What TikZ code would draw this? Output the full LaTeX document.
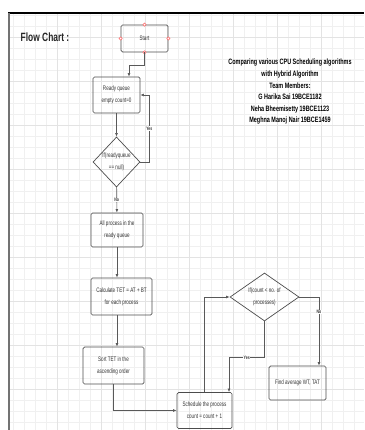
\documentclass[tikz,border=0pt]{standalone}
\usepackage{fontspec}
\setmainfont{Liberation Sans}[FakeStretch=0.7]
\usetikzlibrary{shapes.geometric,arrows.meta}

\tikzset{
  boxnode/.style={draw=black!70, rounded corners=1.5pt, line width=0.7pt, align=center, text=black!80, font=\fontsize{6.5}{12}\selectfont, inner sep=1pt},
  decnode/.style={boxnode, diamond, sharp corners, inner sep=0pt},
  flowline/.style={draw=black!65, line width=0.6pt, -{Latex[length=3.5pt,width=2.8pt]}},
  flowlabel/.style={fill=white, inner sep=0.5pt, font=\fontsize{5}{6}\selectfont\bfseries, text=black!80},
  gridline/.style={black!6, line width=0.4pt},
  gridmajor/.style={black!11, line width=0.5pt},
  pindot/.style={draw=red!60, fill=white, line width=0.5pt}
}

\begin{document}
\begin{tikzpicture}[x=1pt,y=-1pt]
\useasboundingbox (0,0) rectangle (364,430);

\foreach \y in {15,26,...,430}
{
    \draw[gridline](9,\y)--(364,\y);
}
\foreach \x in {13,24,...,364}
{
    \draw[gridline](\x,13)--(\x,430);
}
\foreach \y in {37,81,...,430}
{
    \draw[gridmajor](9,\y)--(364,\y);
}
\foreach \x in {57,101,...,364}
{
    \draw[gridmajor](\x,13)--(\x,430);
}
\draw[black, line width=1.2pt](8,13)--(364,13);
\draw[black!55, line width=1.8pt](9,13)--(9,430);

\node[font=\fontsize{12}{14}\selectfont\bfseries, text=black!85] (title) at (45,37) {Flow Chart :};
\node[align=center, font=\fontsize{7.8}{11.6}\selectfont\bfseries] (members) at (290,92)
  {Comparing various CPU Scheduling algorithms\\ with Hybrid Algorithm\\ Team Members:\\
   G Harika Sai 19BCE1182\\ Neha Bheemisetty 19BCE1123\\ Meghna Manoj Nair 19BCE1459};

\node[boxnode, minimum width=47, minimum height=27] (start) at (144.5,38.5) {Start};
\foreach \a in {north,south,east,west}
{
    \draw[pindot](start.\a)circle(1.6);
}
\node[boxnode, minimum width=47, minimum height=36] (ready) at (116.5,95) {Ready queue\\ empty count=0};
\node[decnode, minimum width=47, minimum height=50, aspect=0.94] (dec1) at (116.5,162) {If(readyqueue\\ == null)};
\node[boxnode, minimum width=52, minimum height=34] (allproc) at (117,230) {All process in the\\ ready queue};
\node[boxnode, minimum width=61, minimum height=37] (calc) at (121.5,296.5) {Calculate TET = AT + BT\\ for each process};
\node[boxnode, minimum width=61, minimum height=37] (sort) at (113.5,365.5) {Sort TET in the\\ ascending order};
\node[boxnode, minimum width=55, minimum height=36] (sched) at (204.5,410.5) {Schedule the process\\ count = count + 1};
\node[decnode, minimum width=69, minimum height=48, aspect=1.45] (dec2) at (264.5,297) {If(count {<} no. of\\ processes)};
\node[boxnode, minimum width=57, minimum height=34] (find) at (297.5,383) {Find average WT, TAT};

\draw[flowline](start.south)--++(0,13)-|([xshift=12.5pt]ready.north);
\draw[flowline](ready)--(dec1);
\draw[flowline](dec1.east)--++(9,0)|-node[flowlabel,pos=0.25]{Yes}(ready.east);
\draw[flowline](dec1)--node[flowlabel]{No}(allproc);
\draw[flowline](allproc.south)--(allproc.south|-calc.north);
\draw[flowline](allproc.south|-calc.south)--(allproc.south|-sort.north);
\draw[flowline](sort.south)|-(sched.west);
\draw[flowline](sched.north)|-(dec2.west);
\draw[flowline](dec2.south)--++(0,36)-|node[flowlabel,pos=0.25]{Yes}([xshift=24.5pt]sched.north);
\draw[flowline](dec2.east)-|node[flowlabel,pos=0.61]{No}([xshift=21.5pt]find.north);
\end{tikzpicture}
\end{document}
